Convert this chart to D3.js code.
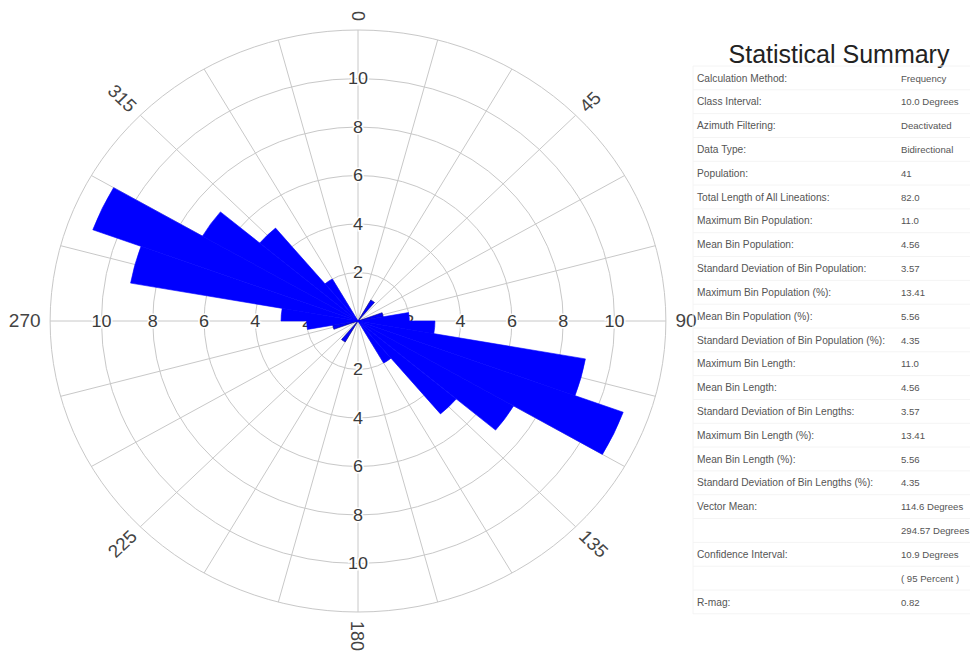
<!DOCTYPE html>
<html>
<head>
<meta charset="utf-8">
<script src="https://cdn.jsdelivr.net/npm/d3@7"></script>
<style>
  body { margin: 0; background: #fff; }
  svg { display: block; font-family: "Liberation Sans", Arial, sans-serif; }
</style>
</head>
<body>
<svg id="chart" width="970" height="652"></svg>
<script>
// bins (degrees) and counts, bidirectional data => mirrored at +180
const binStarts = [0, 10, 20, 30, 40, 50, 60, 70, 80, 90, 100, 110, 120, 130, 140, 150, 160, 170];
const binCounts = [0, 0, 0, 1, 0, 0, 0, 1, 2, 3, 9, 11, 7, 5, 2, 0, 0, 0];
const binWidth = 10;

const ringValues = [2, 4, 6, 8, 10, 12];
const ringLabels = [2, 4, 6, 8, 10];
const spokeAngles = [0, 15, 30, 45, 60, 75, 90, 105, 120, 135, 150, 165, 180, 195, 210, 225, 240, 255, 270, 285, 300, 315, 330, 345];
const compassLabels = [0, 45, 90, 135, 180, 225, 270, 315];

const summaryTitle = 'Statistical Summary';
const summaryLabels = [
  'Calculation Method:', 'Class Interval:', 'Azimuth Filtering:', 'Data Type:', 'Population:',
  'Total Length of All Lineations:', 'Maximum Bin Population:', 'Mean Bin Population:',
  'Standard Deviation of Bin Population:', 'Maximum Bin Population (%):', 'Mean Bin Population (%):',
  'Standard Deviation of Bin Population (%):', 'Maximum Bin Length:', 'Mean Bin Length:',
  'Standard Deviation of Bin Lengths:', 'Maximum Bin Length (%):', 'Mean Bin Length (%):',
  'Standard Deviation of Bin Lengths (%):', 'Vector Mean:', '', 'Confidence Interval:', '', 'R-mag:'
];
const summaryValues = [
  'Frequency', '10.0 Degrees', 'Deactivated', 'Bidirectional', '41', '82.0', '11.0', '4.56', '3.57',
  '13.41', '5.56', '4.35', '11.0', '4.56', '3.57', '13.41', '5.56', '4.35', '114.6 Degrees',
  '294.57 Degrees', '10.9 Degrees', '( 95 Percent )', '0.82'
];

const svg = d3.select('#chart');
const cx = 358, cy = 321;
const stretchX = 1.058; // picture is slightly wider than tall
const r = d3.scaleLinear().domain([0, 12]).range([0, 291]);
const rad = d => d * Math.PI / 180;

const plot = svg.append('g')
  .attr('transform', `translate(${cx},${cy}) scale(${stretchX},1)`);

// grid
plot.append('g').selectAll('circle')
  .data(ringValues)
  .join('circle')
  .attr('r', d => r(d))
  .attr('fill', 'none')
  .attr('stroke', '#c8c8c8')
  .attr('stroke-width', 1)
  .attr('vector-effect', 'non-scaling-stroke');

plot.append('g').selectAll('line')
  .data(spokeAngles)
  .join('line')
  .attr('x1', 0).attr('y1', 0)
  .attr('x2', d => r(12) * Math.sin(rad(d)))
  .attr('y2', d => -r(12) * Math.cos(rad(d)))
  .attr('stroke', '#c8c8c8')
  .attr('stroke-width', 1)
  .attr('vector-effect', 'non-scaling-stroke');

// ring labels along the four axes
const axisDirs = [[0, -1], [0, 1], [-1, 0], [1, 0]];
const ringLabelData = [];
axisDirs.forEach(([dx, dy]) => ringLabels.forEach(v => ringLabelData.push({ v, dx, dy })));

plot.append('g').selectAll('text')
  .data(ringLabelData)
  .join('text')
  .attr('x', d => d.dx * r(d.v))
  .attr('y', d => d.dy * r(d.v))
  .attr('text-anchor', 'middle')
  .attr('dominant-baseline', 'central')
  .attr('font-size', 17)
  .attr('fill', '#3a3a3a')
  .attr('stroke', '#fff')
  .attr('stroke-width', 3)
  .attr('paint-order', 'stroke')
  .text(d => d.v);

// compass labels, set radially outside the outer ring
const labelR = r(12) + 9;
plot.append('g').selectAll('text')
  .data(compassLabels)
  .join('text')
  .attr('transform', d => {
    let rot = d - 90;
    if (d > 180) rot -= 180;
    return `translate(${labelR * Math.sin(rad(d))},${-labelR * Math.cos(rad(d))}) rotate(${rot})`;
  })
  .attr('text-anchor', d => (d > 180 ? 'end' : 'start'))
  .attr('dominant-baseline', 'central')
  .attr('font-size', 18)
  .attr('fill', '#444')
  .text(d => d);

// wedges
const bins = [];
binStarts.forEach((s, i) => {
  if (binCounts[i] > 0) {
    bins.push({ start: s, value: binCounts[i] });
    bins.push({ start: s + 180, value: binCounts[i] });
  }
});

const arc = d3.arc()
  .innerRadius(0)
  .outerRadius(d => r(d.value))
  .startAngle(d => rad(d.start))
  .endAngle(d => rad(d.start + binWidth));

plot.append('g').selectAll('path')
  .data(bins)
  .join('path')
  .attr('d', arc)
  .attr('fill', '#0000ff')
  .attr('stroke', d => (d.value <= 1 ? '#000080' : '#0000ff'))
  .attr('stroke-width', 0.6)
  .attr('vector-effect', 'non-scaling-stroke');

// summary table
const table = svg.append('g');
const rowY = d3.scaleLinear().domain([0, 22]).range([78, 602]);
const labelX = 697, valueX = 901;

table.append('text')
  .attr('x', 839).attr('y', 63)
  .attr('text-anchor', 'middle')
  .attr('font-size', 25)
  .attr('fill', '#222')
  .text(summaryTitle);

table.selectAll('line.sep')
  .data(d3.range(summaryLabels.length + 1))
  .join('line')
  .attr('class', 'sep')
  .attr('x1', 693).attr('x2', 970)
  .attr('y1', i => rowY(i) - 12)
  .attr('y2', i => rowY(i) - 12)
  .attr('stroke', '#f4f4f4');

table.append('line')
  .attr('x1', 693).attr('x2', 693)
  .attr('y1', rowY(0) - 12).attr('y2', rowY(22) + 12)
  .attr('stroke', '#f4f4f4');

table.selectAll('text.lab')
  .data(summaryLabels)
  .join('text')
  .attr('class', 'lab')
  .attr('x', labelX)
  .attr('y', (d, i) => rowY(i))
  .attr('dominant-baseline', 'central')
  .attr('font-size', 10.2)
  .attr('fill', '#555')
  .text(d => d);

table.selectAll('text.val')
  .data(summaryValues)
  .join('text')
  .attr('class', 'val')
  .attr('x', valueX)
  .attr('y', (d, i) => rowY(i))
  .attr('dominant-baseline', 'central')
  .attr('font-size', 9.6)
  .attr('fill', '#555')
  .text(d => d);
</script>
</body>
</html>
